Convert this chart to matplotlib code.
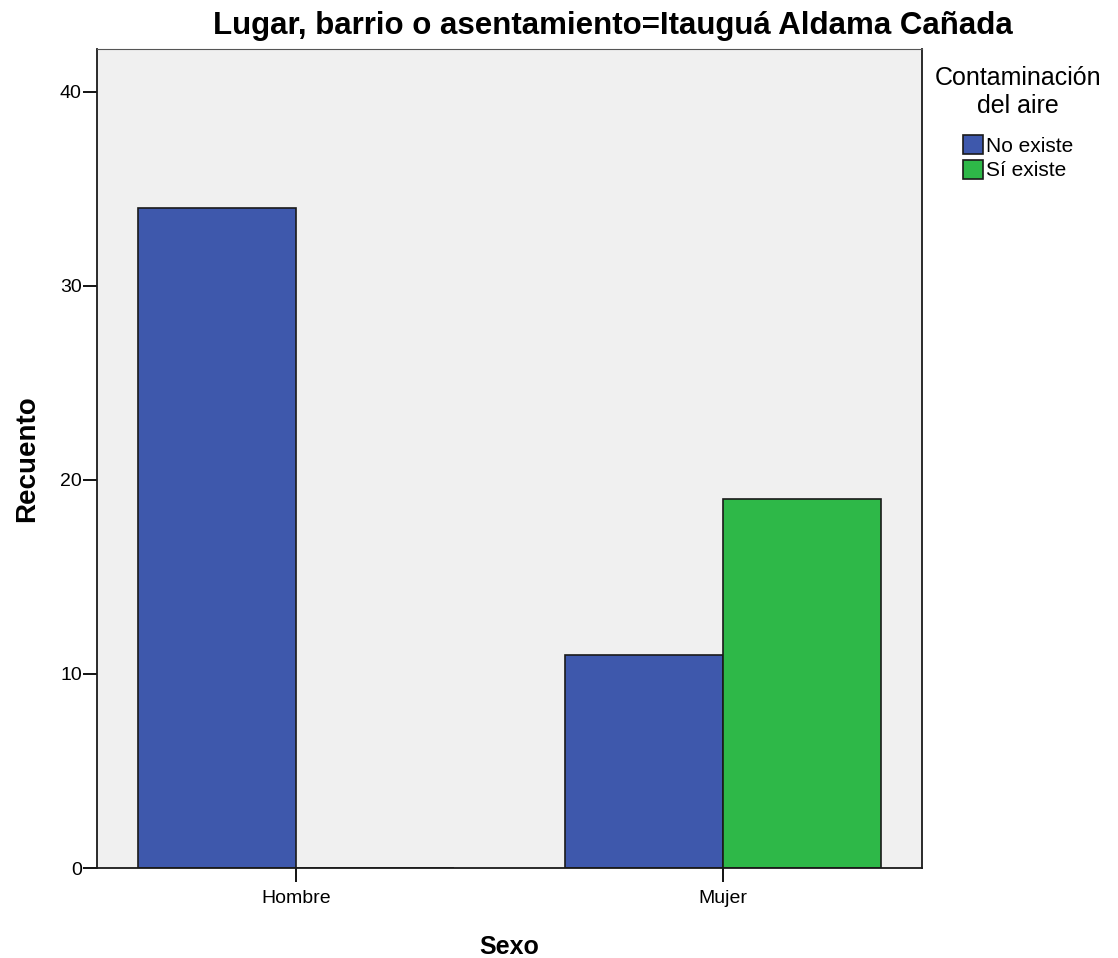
import matplotlib.pyplot as plt
import numpy as np

plt.rcParams['font.family'] = ['Liberation Sans', 'DejaVu Sans']

# Data
categories = ['Hombre', 'Mujer']
no_existe = [34, 11]
si_existe = [0, 19]
series_names = ['No existe', 'Sí existe']
colors = ['#3e58ac', '#2eb848']

fig = plt.figure(figsize=(11.18, 9.58), dpi=100)
ax = fig.add_axes([0.0868, 0.0939, 0.7379, 0.855])
ax.set_facecolor('#f0f0f0')

x = np.arange(len(categories))
w = 0.37
ax.bar(x - w / 2, no_existe, w, color=colors[0], edgecolor='#1a1a1a', linewidth=1.2,
       label=series_names[0], zorder=2)
ax.bar(x + w / 2, si_existe, w, color=colors[1], edgecolor='#1a1a1a', linewidth=1.2,
       label=series_names[1], zorder=2)

ax.set_xlim(-0.466, 1.466)
ax.set_ylim(0, 42.2)
ax.set_yticks([0, 10, 20, 30, 40])
ax.set_xticks(x)
ax.set_xticklabels(categories)
ax.tick_params(axis='both', labelsize=14, length=10, width=1.3, direction='out')
ax.tick_params(axis='y', pad=1)
ax.tick_params(axis='x', pad=6)

for s in ['left', 'bottom', 'right']:
    ax.spines[s].set_color('#1a1a1a')
    ax.spines[s].set_linewidth(1.3)
ax.spines['top'].set_color('#555555')

fig.text(0.548, 1 - 26 / 958, 'Lugar, barrio o asentamiento=Itauguá Aldama Cañada',
         fontsize=22.5, fontweight='bold', ha='center', va='center')
ax.set_ylabel('Recuento', fontsize=20, fontweight='bold', labelpad=14)
ax.set_xlabel('Sexo', fontsize=18, fontweight='bold', labelpad=20)

leg = ax.legend(loc='upper left', bbox_to_anchor=(1.015, 0.979), frameon=False,
                title='Contaminación\ndel aire', fontsize=15, title_fontsize=18,
                handlelength=1.0, handleheight=1.0, handletextpad=0.1,
                labelspacing=0.2, borderaxespad=0, borderpad=0)
leg._legend_box.align = 'center'
leg._legend_box.sep = 12.5
leg.get_title().set_multialignment('center')

fig.savefig('out.png', dpi=100)
